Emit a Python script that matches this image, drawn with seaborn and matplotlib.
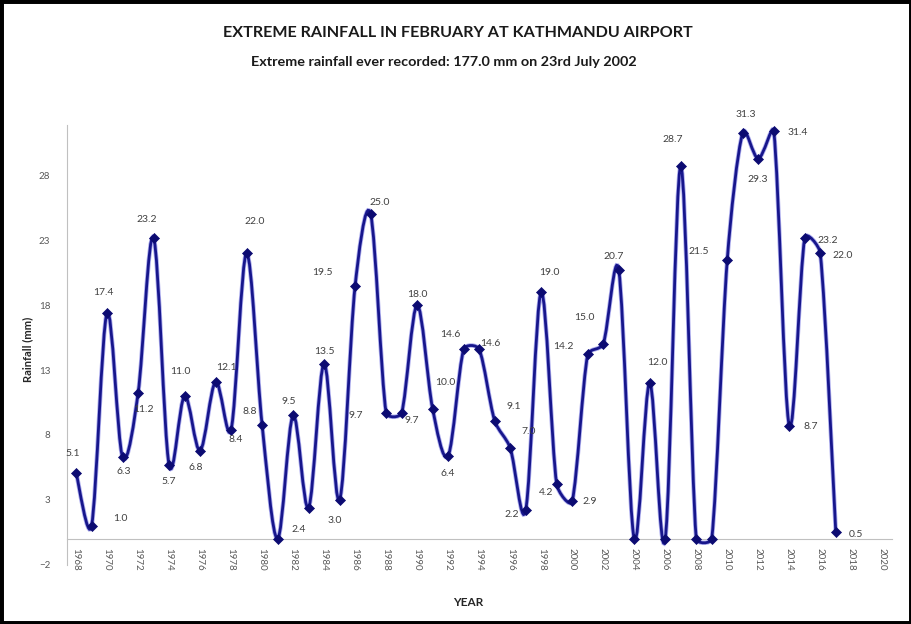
import matplotlib
matplotlib.use("Agg")
import numpy as np
import pandas as pd
import matplotlib.pyplot as plt
import seaborn as sns
from matplotlib.path import Path
from matplotlib.patches import PathPatch, Rectangle

# --- data ---
years = list(range(1968, 2018))
rainfall = [5.1, 1.0, 17.4, 6.3, 11.2, 23.2, 5.7, 11.0, 6.8, 12.1,
            8.4, 22.0, 8.8, 0.0, 9.5, 2.4, 13.5, 3.0, 19.5, 25.0,
            9.7, 9.7, 18.0, 10.0, 6.4, 14.6, 14.6, 9.1, 7.0, 2.2,
            19.0, 4.2, 2.9, 14.2, 15.0, 20.7, 0.0, 12.0, 0.0, 28.7,
            0.0, 0.0, 21.5, 31.3, 29.3, 31.4, 8.7, 23.2, 22.0, 0.5]
y_ticks = [-2, 3, 8, 13, 18, 23, 28]
x_ticks = list(range(1968, 2021, 2))

TITLE = "EXTREME RAINFALL IN FEBRUARY AT KATHMANDU AIRPORT"
SUBTITLE = "Extreme rainfall ever recorded: 177.0 mm on 23rd July 2002"

# label offsets in pixels (dx, dy), zero years have no label
label_offsets = {
    1968: (-3, 19), 1969: (29, 7), 1970: (-4, 20), 1971: (1, -14),
    1972: (5, -16), 1973: (-7, 18), 1974: (0, -17), 1975: (-4, 25),
    1976: (-4, -17), 1977: (11, 14), 1978: (5, -10), 1979: (8, 32),
    1980: (-12, 13), 1982: (-4, 14), 1983: (-10, -22), 1984: (0, 12),
    1985: (-5, -21), 1986: (-33, 13), 1987: (9, 12), 1988: (-30, -3),
    1989: (10, -8), 1990: (0, 11), 1991: (13, 26), 1992: (0, -18),
    1993: (-13, 15), 1994: (11, 6), 1995: (19, 14), 1996: (18, 16),
    1997: (-14, -4), 1998: (8, 20), 1999: (-11, -8), 2000: (18, 0),
    2001: (-24, 8), 2002: (-19, 27), 2003: (-5, 14), 2005: (8, 21),
    2007: (-8, 27), 2010: (-29, 8), 2011: (3, 18), 2012: (-1, -21),
    2013: (24, -1), 2014: (21, -1), 2015: (23, -3), 2016: (22, -2),
    2017: (20, -2),
}

df = pd.DataFrame({"year": years, "rainfall": rainfall})

sns.set_style("white")
plt.rcParams['font.family'] = ['Lato', 'DejaVu Sans']

LINE = "#17168c"
TEXT = "#404040"

fig = plt.figure(figsize=(9.12, 6.24), dpi=100)
ax = fig.add_axes([0.0735, 0.095, 0.905, 0.705])
ax.set_xlim(1967.42, 2020.65)
ax.set_ylim(-2, 31.9)


def smooth_path(data, k=0.35):
    # excel-like smoothed line: catmull-rom handles, clamped so that
    # a handle is never longer than k * its segment (in screen pixels)
    fig.canvas.draw()
    pix = ax.transData.transform(data)
    n = len(pix)
    verts = [tuple(pix[0])]
    codes = [Path.MOVETO]

    def handle(i):
        return (pix[min(i + 1, n - 1)] - pix[max(i - 1, 0)]) / 6.0

    def clamp(h, limit):
        length = np.hypot(*h)
        if length > limit and length > 0:
            h = h * (limit / length)
        return h

    for i in range(n - 1):
        p1, p2 = pix[i], pix[i + 1]
        seg = np.hypot(*(p2 - p1))
        c1 = p1 + clamp(handle(i), seg * k)
        c2 = p2 - clamp(handle(i + 1), seg * k)
        verts += [tuple(c1), tuple(c2), tuple(p2)]
        codes += [Path.CURVE4] * 3
    back = ax.transData.inverted().transform(np.array(verts))
    return Path(back, codes)


path = smooth_path(df[["year", "rainfall"]].to_numpy(dtype=float))
ax.add_patch(PathPatch(path, facecolor="none", edgecolor="#4a4ad8",
                       lw=3.2, alpha=0.45, zorder=2))
ax.add_patch(PathPatch(path, facecolor="none", edgecolor=LINE,
                       lw=2.0, zorder=3))

sns.scatterplot(data=df, x="year", y="rainfall", marker="D", s=26,
                color="#0c0b72", edgecolor="#0c0b72", linewidth=0.5,
                zorder=4, ax=ax, legend=False)

for yr, val in zip(years, rainfall):
    if yr not in label_offsets:
        continue
    dx, dy = label_offsets[yr]
    ax.annotate(f"{val:.1f}", xy=(yr, val), xytext=(dx, dy),
                textcoords="offset pixels", ha="center", va="center",
                fontsize=7.5, color=TEXT, zorder=5)

ax.set_xlim(1967.42, 2020.65)
ax.set_ylim(-2, 31.9)
ax.set_yticks(y_ticks)
ax.set_xticks(x_ticks)
ax.set_xticks(range(1968, 2021), minor=True)
ax.set_xticklabels([str(x) for x in x_ticks])

ax.spines["top"].set_visible(False)
ax.spines["right"].set_visible(False)
ax.spines["bottom"].set_position(("data", 0))
for s in ["left", "bottom"]:
    ax.spines[s].set_color("#c0c0c0")
    ax.spines[s].set_linewidth(0.8)

ax.tick_params(axis="y", which="major", length=4, color="#c0c0c0",
               labelsize=7, labelcolor="#595959", pad=8, direction="out")
ax.tick_params(axis="x", which="both", length=3, color="#c0c0c0",
               labelsize=7, labelcolor="#595959", pad=4, direction="out")
for lbl in ax.get_xticklabels():
    lbl.set_rotation(270)
    lbl.set_va("top")
    lbl.set_ha("center")

ax.set_xlabel("")
ax.set_ylabel("")
fig.text(0.030, 0.44, "Rainfall (mm)", rotation=90, ha="center",
         va="center", fontsize=8, fontweight="bold", color="#262626")
fig.text(0.513, 1 - 603 / 624, "YEAR", ha="center", va="center",
         fontsize=8.5, fontweight="bold", color="#262626")

fig.text(0.502, 1 - 33 / 624, TITLE, ha="center", va="center",
         fontsize=11.6, fontweight="bold", color="#1a1a1a")
fig.text(0.487, 1 - 62 / 624, SUBTITLE, ha="center", va="center",
         fontsize=10.4, fontweight="bold", color="#1a1a1a")

fig.patches.append(Rectangle((0, 0), 1, 1, transform=fig.transFigure,
                             fill=False, edgecolor="black", lw=5,
                             zorder=10))

fig.savefig("out.png", dpi=100, facecolor="white")
